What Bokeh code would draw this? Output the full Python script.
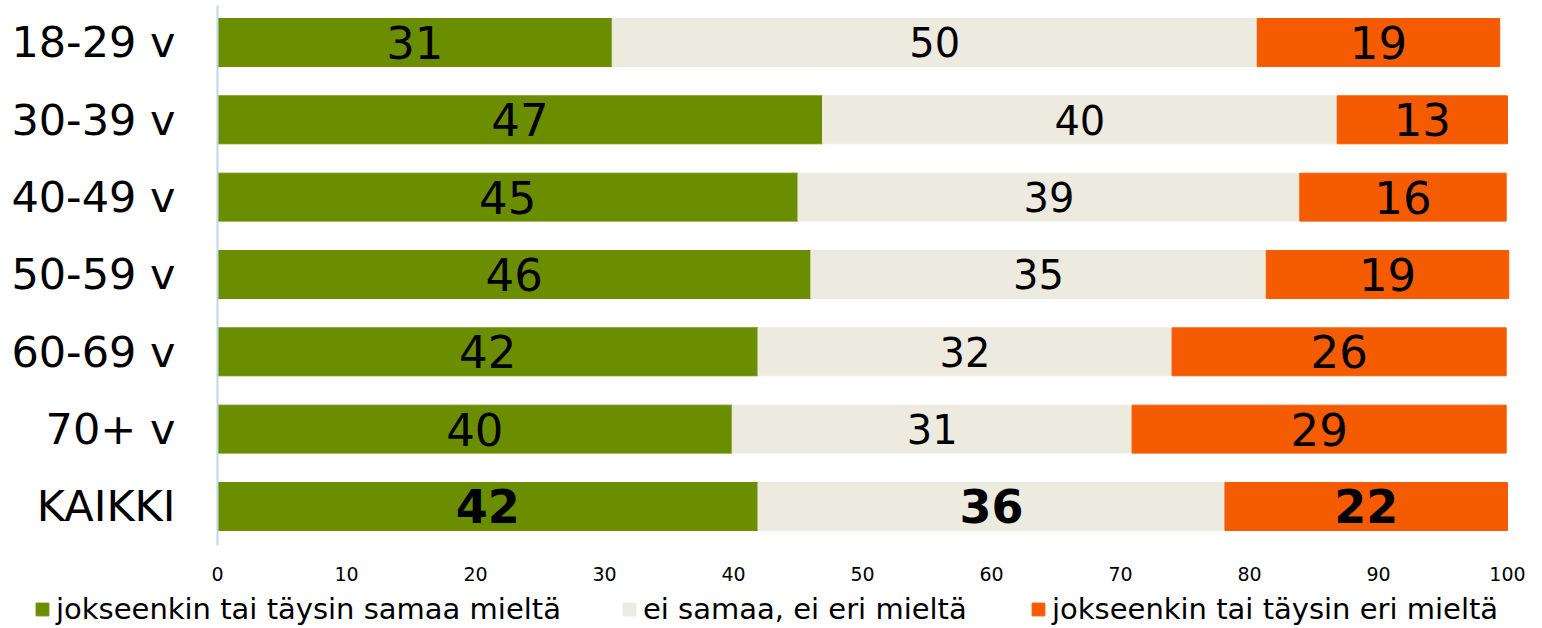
from bokeh.plotting import figure
from bokeh.models import ColumnDataSource, Range1d, FixedTicker, Legend, LegendItem
from bokeh.core.properties import value
from bokeh.embed import file_html
from bokeh.resources import INLINE

# ---- data ----
categories = ["18-29 v", "30-39 v", "40-49 v", "50-59 v", "60-69 v", "70+ v", "KAIKKI"]
agree = [30.6, 46.9, 45.0, 46.0, 41.9, 39.9, 41.9]
neutral = [50.0, 39.9, 38.9, 35.3, 32.1, 31.0, 36.2]
disagree = [18.8, 13.2, 16.0, 18.8, 25.9, 29.0, 21.9]
agree_labels = ["31", "47", "45", "46", "42", "40", "42"]
neutral_labels = ["50", "40", "39", "35", "32", "31", "36"]
disagree_labels = ["19", "13", "16", "19", "26", "29", "22"]
series_names = ["jokseenkin tai täysin samaa mieltä", "ei samaa, ei eri mieltä",
                "jokseenkin tai täysin eri mieltä"]
x_ticks = [0, 10, 20, 30, 40, 50, 60, 70, 80, 90, 100]

GREEN = "#6B8E00"
GRAY = "#EDEBE0"
ORANGE = "#F55B00"
FONT = "DejaVu Sans"

idx = list(range(len(categories)))
a_end = agree[:]
n_end = [a + n for a, n in zip(agree, neutral)]
d_end = [a + n + d for a, n, d in zip(agree, neutral, disagree)]

src = ColumnDataSource(dict(
    y=idx, a0=[0] * len(idx), a1=a_end, n1=n_end, d1=d_end,
))

# frame covers the whole canvas; axes are drawn at fixed locations inside it
Y_TOP, Y_BOTTOM, Y_AXIS_END = -0.543, 7.578, 6.505
p = figure(width=1540, height=628, output_backend="svg", toolbar_location=None,
           x_range=Range1d(-16.82, 102.56), y_range=Range1d(Y_BOTTOM, Y_TOP),
           min_border=0)
p.outline_line_color = None
p.xgrid.visible = False
p.ygrid.visible = False
p.background_fill_color = "white"

r_a = p.hbar(y="y", left="a0", right="a1", height=0.62, color=GREEN, source=src)
r_n = p.hbar(y="y", left="a1", right="n1", height=0.62, color=GRAY, source=src)
r_d = p.hbar(y="y", left="n1", right="d1", height=0.62, color=ORANGE, source=src)

# data labels
last = len(categories) - 1
for starts, ends, labels, size in [
    ([0] * len(idx), a_end, agree_labels, "45px"),
    (a_end, n_end, neutral_labels, "40px"),
    (n_end, d_end, disagree_labels, "45px"),
]:
    xs = [(s + e) / 2 for s, e in zip(starts, ends)]
    p.text(x=xs[:last], y=idx[:last], text=labels[:last], text_align="center",
           text_baseline="middle", text_font=value(FONT), text_font_size=size,
           text_color="black")
    p.text(x=xs[last:], y=idx[last:], text=labels[last:], text_align="center",
           text_baseline="middle", text_font=value(FONT), text_font_size="46px",
           text_font_style="bold", text_color="black")

# axes
p.xaxis.fixed_location = Y_AXIS_END
p.xaxis.bounds = (0, 100)
p.xaxis.ticker = FixedTicker(ticks=x_ticks)
p.xaxis.axis_line_color = None
p.xaxis.major_tick_line_color = None
p.xaxis.minor_tick_line_color = None
p.xaxis.major_label_text_font = FONT
p.xaxis.major_label_text_font_size = "19px"
p.xaxis.major_label_text_color = "black"
p.xaxis.major_label_standoff = 15

p.yaxis.fixed_location = 0
p.yaxis.bounds = (-0.48, Y_AXIS_END)
p.yaxis.ticker = FixedTicker(ticks=idx)
p.yaxis.major_label_overrides = {i: c for i, c in zip(idx, categories)}
p.yaxis.axis_line_color = "#BDD7EE"
p.yaxis.axis_line_width = 2
p.yaxis.major_tick_line_color = None
p.yaxis.minor_tick_line_color = None
p.yaxis.major_label_text_font = FONT
p.yaxis.major_label_text_font_size = "43px"
p.yaxis.major_label_text_color = "black"
p.yaxis.major_label_standoff = 36

# legend: one entry per series, placed along the bottom edge
for r, name, xloc in zip([r_a, r_n, r_d], series_names, [34, 621, 1030]):
    lg = Legend(items=[LegendItem(label=name, renderers=[r])], location=(xloc, 2),
                padding=0, margin=0, border_line_color=None, background_fill_alpha=0,
                glyph_width=16, glyph_height=16, label_standoff=6,
                label_text_font=FONT, label_text_font_size="29px",
                label_text_color="black")
    p.add_layout(lg, "center")

open("out.html", "w").write(file_html(p, INLINE))
